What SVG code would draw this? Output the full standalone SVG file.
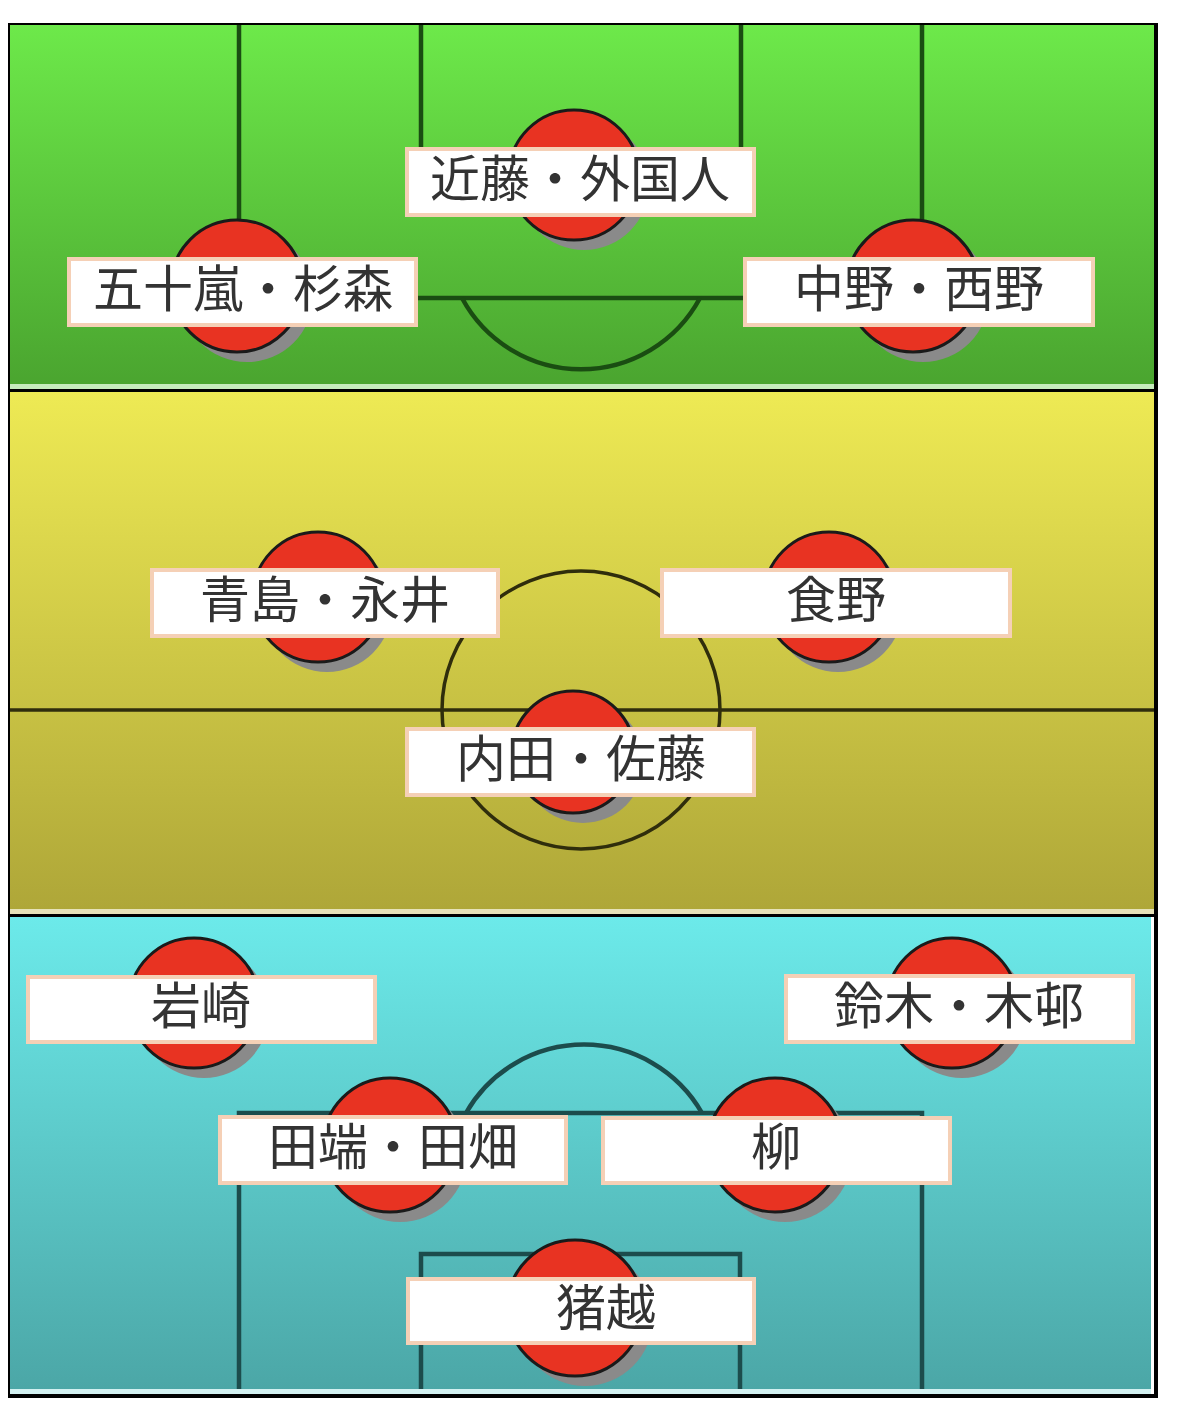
<svg xmlns="http://www.w3.org/2000/svg" width="1179" height="1414" viewBox="0 0 1179 1414">
  <defs>
    <linearGradient id="gGreen" x1="0" y1="0" x2="0" y2="1">
      <stop offset="0" stop-color="#6de94a"/>
      <stop offset="1" stop-color="#4aa42f"/>
    </linearGradient>
    <linearGradient id="gYellow" x1="0" y1="0" x2="0" y2="1">
      <stop offset="0" stop-color="#eeea54"/>
      <stop offset="1" stop-color="#aea638"/>
    </linearGradient>
    <linearGradient id="gCyan" x1="0" y1="0" x2="0" y2="1">
      <stop offset="0" stop-color="#6ceaea"/>
      <stop offset="1" stop-color="#4ba6a6"/>
    </linearGradient>
    <style>
      .shadow { fill: #8a8a8a; }
      .player { fill: #e83322; stroke: #1a1a1a; stroke-width: 3; }
      .box { fill: #ffffff; stroke: #f5d0b6; stroke-width: 4; }
      .lbl { font-family: "Noto Sans CJK JP", "Noto Sans CJK SC", sans-serif; font-size: 50px; fill: #333333; text-anchor: middle; }
      .lineG { fill: none; stroke: #1a4d12; stroke-width: 4.5; }
      .lineY { fill: none; stroke: #2f2d0c; stroke-width: 3.5; }
      .lineC { fill: none; stroke: #1c4c4c; stroke-width: 4.5; }
    </style>
  </defs>

  <rect x="0" y="0" width="1179" height="1414" fill="#ffffff"/>

  <!-- sections -->
  <g id="sections">
    <rect x="10" y="25" width="1144" height="364" fill="url(#gGreen)"/>
    <rect x="10" y="384" width="1144" height="5" fill="#c6ecbc"/>
    <rect x="10" y="391" width="1144" height="523" fill="url(#gYellow)"/>
    <rect x="10" y="909" width="1144" height="5" fill="#e6e2b8"/>
    <rect x="10" y="916" width="1141" height="478" fill="url(#gCyan)"/>
    <rect x="10" y="1389" width="1141" height="5" fill="#d2f0f0"/>
    <rect x="1151" y="916" width="3" height="478" fill="#ffffff"/>
  </g>

  <!-- pitch markings -->
  <g id="pitch">
    <polyline class="lineG" points="239,25 239,298 922,298 922,25"/>
    <polyline class="lineG" points="421,25 421,185 741,185 741,25"/>
    <path class="lineG" d="M462,298 A135,135 0 0 0 700,298"/>

    <line class="lineY" x1="10" y1="710" x2="1154" y2="710"/>
    <circle class="lineY" cx="581" cy="710" r="139"/>

    <polyline class="lineC" points="239,1389 239,1113 922,1113 922,1389"/>
    <polyline class="lineC" points="421,1389 421,1254 740,1254 740,1389"/>
    <path class="lineC" d="M466,1113 A136,136 0 0 1 702,1113"/>
  </g>

  <!-- frame -->
  <g id="frame" fill="#000000">
    <rect x="8" y="23" width="1150" height="2"/>
    <rect x="8" y="23" width="2" height="1375"/>
    <rect x="1154" y="23" width="4" height="1375"/>
    <rect x="8" y="1394" width="1150" height="4"/>
    <rect x="8" y="389" width="1150" height="3"/>
    <rect x="8" y="914" width="1150" height="3"/>
  </g>

  <g id="connectors"></g>

  <!-- players -->
  <g id="n-kondo">
    <circle class="shadow" cx="584" cy="185" r="65"/>
    <circle class="player" cx="574" cy="175" r="65"/>
    <rect class="box" x="407" y="149" width="347" height="66"/>
    <text class="lbl" x="580" y="197">近藤・外国人</text>
  </g>
  <g id="n-igarashi">
    <circle class="shadow" cx="247" cy="296" r="66"/>
    <circle class="player" cx="237" cy="286" r="66"/>
    <rect class="box" x="69" y="259" width="347" height="66"/>
    <text class="lbl" x="243" y="307">五十嵐・杉森</text>
  </g>
  <g id="n-nakano">
    <circle class="shadow" cx="923" cy="296" r="66"/>
    <circle class="player" cx="913" cy="286" r="66"/>
    <rect class="box" x="745" y="259" width="348" height="66"/>
    <text class="lbl" x="919" y="307">中野・西野</text>
  </g>
  <g id="n-aoshima">
    <circle class="shadow" cx="327" cy="607" r="65"/>
    <circle class="player" cx="318" cy="597" r="65"/>
    <rect class="box" x="152" y="570" width="346" height="66"/>
    <text class="lbl" x="325" y="618">青島・永井</text>
  </g>
  <g id="n-meshino">
    <circle class="shadow" cx="838" cy="607" r="65"/>
    <circle class="player" cx="829" cy="597" r="65"/>
    <rect class="box" x="662" y="570" width="348" height="66"/>
    <text class="lbl" x="836" y="618">食野</text>
  </g>
  <g id="n-uchida">
    <circle class="shadow" cx="583" cy="762" r="61"/>
    <circle class="player" cx="573" cy="752" r="61"/>
    <rect class="box" x="407" y="729" width="347" height="66"/>
    <text class="lbl" x="581" y="777">内田・佐藤</text>
  </g>
  <g id="n-iwasaki">
    <circle class="shadow" cx="204" cy="1013" r="65"/>
    <circle class="player" cx="194" cy="1003" r="65"/>
    <rect class="box" x="28" y="977" width="347" height="65"/>
    <text class="lbl" x="201" y="1024">岩崎</text>
  </g>
  <g id="n-suzuki">
    <circle class="shadow" cx="962" cy="1013" r="65"/>
    <circle class="player" cx="952" cy="1003" r="65"/>
    <rect class="box" x="786" y="976" width="347" height="66"/>
    <text class="lbl" x="959" y="1024">鈴木・木邨</text>
  </g>
  <g id="n-tabata">
    <circle class="shadow" cx="400" cy="1155" r="67"/>
    <circle class="player" cx="390" cy="1145" r="67"/>
    <rect class="box" x="220" y="1117" width="346" height="66"/>
    <text class="lbl" x="393" y="1165">田端・田畑</text>
  </g>
  <g id="n-yanagi">
    <circle class="shadow" cx="785" cy="1155" r="67"/>
    <circle class="player" cx="775" cy="1145" r="67"/>
    <rect class="box" x="603" y="1118" width="347" height="65"/>
    <text class="lbl" x="776" y="1165">柳</text>
  </g>
  <g id="n-inokoshi">
    <circle class="shadow" cx="585" cy="1318" r="68"/>
    <circle class="player" cx="575" cy="1308" r="68"/>
    <rect class="box" x="408" y="1279" width="346" height="64"/>
    <text class="lbl" x="606" y="1326">猪越</text>
  </g>
</svg>
